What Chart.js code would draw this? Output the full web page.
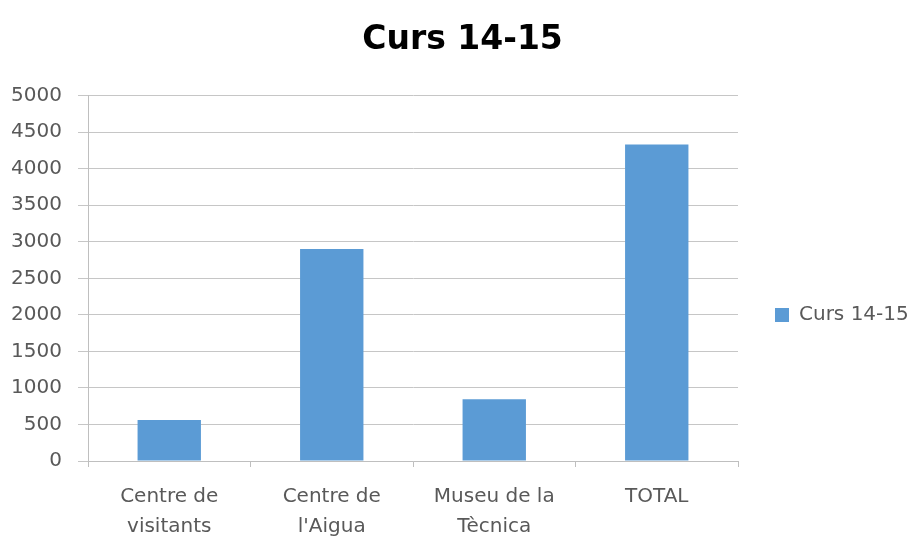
<!DOCTYPE html>
<html>
<head>
<meta charset="utf-8">
<script src="https://cdn.jsdelivr.net/npm/chart.js@4/dist/chart.umd.min.js"></script>
<style>
  html, body { margin: 0; padding: 0; background: #ffffff; }
  #wrap { width: 917px; height: 538px; position: relative; }
</style>
</head>
<body>
<div id="wrap"><canvas id="c" width="917" height="538"></canvas></div>
<script>
const chartTitle = "Curs 14-15";
const categories = [["Centre de", "visitants"], ["Centre de", "l'Aigua"], ["Museu de la", "Tècnica"], ["TOTAL"]];
const seriesName = "Curs 14-15";
const seriesValues = [560, 2900, 845, 4330];
const yTicks = [0, 500, 1000, 1500, 2000, 2500, 3000, 3500, 4000, 4500, 5000];

const textColor = "#595959";
const fontFamily = "'DejaVu Sans', sans-serif";

const legendPlacer = {
  id: "legendPlacer",
  beforeLayout(chart) {
    const lg = chart.legend;
    if (lg && !lg._patched) {
      const orig = lg.fit.bind(lg);
      lg.fit = function () { orig(); this.width = 179; this.minSize = { width: this.width, height: this.height }; };
      lg._patched = true;
    }
  },
  afterLayout(chart) {
    const lg = chart.legend;
    if (lg) {
      const t = lg.top;
      lg.bottom = 630 - t;
      lg.height = lg.bottom - lg.top;
    }
  }
};

new Chart(document.getElementById("c"), {
  type: "bar",
  data: {
    labels: categories,
    datasets: [{
      label: seriesName,
      data: seriesValues,
      backgroundColor: "#5B9BD5",
      borderWidth: 0,
      categoryPercentage: 1.0,
      barPercentage: 0.39
    }]
  },
  plugins: [legendPlacer],
  options: {
    responsive: false,
    animation: false,
    devicePixelRatio: 1,
    layout: { padding: { left: 8, right: 0, top: 0, bottom: 0 } },
    plugins: {
      title: {
        display: true,
        text: chartTitle,
        color: "#000000",
        font: { family: fontFamily, size: 33, weight: "bold", lineHeight: 1.2 },
        padding: { top: 21, bottom: 35 }
      },
      legend: {
        display: true,
        position: "right",
        labels: {
          color: textColor,
          font: { family: fontFamily, size: 20 },
          boxWidth: 14,
          boxHeight: 14,
          padding: 37
        }
      },
      tooltip: { enabled: false }
    },
    scales: {
      x: {
        afterFit: (s) => { s.height = 77; },
        grid: { display: true, drawOnChartArea: false, offset: true, color: "#BFBFBF", tickLength: 6 },
        border: { color: "#BFBFBF" },
        ticks: { color: textColor, font: { family: fontFamily, size: 20, lineHeight: 1.5 }, maxRotation: 0, autoSkip: false, padding: 15 }
      },
      y: {
        min: 0,
        max: 5000,
        afterFit: (s) => { s.width = 80; },
        afterBuildTicks: (s) => { s.ticks = yTicks.map(v => ({ value: v })); },
        grid: { color: "#C6C6C6", tickLength: 10 },
        border: { color: "#BFBFBF" },
        ticks: { color: textColor, font: { family: fontFamily, size: 20 }, padding: 16, callback: (v) => String(v) }
      }
    }
  }
});
</script>
</body>
</html>
